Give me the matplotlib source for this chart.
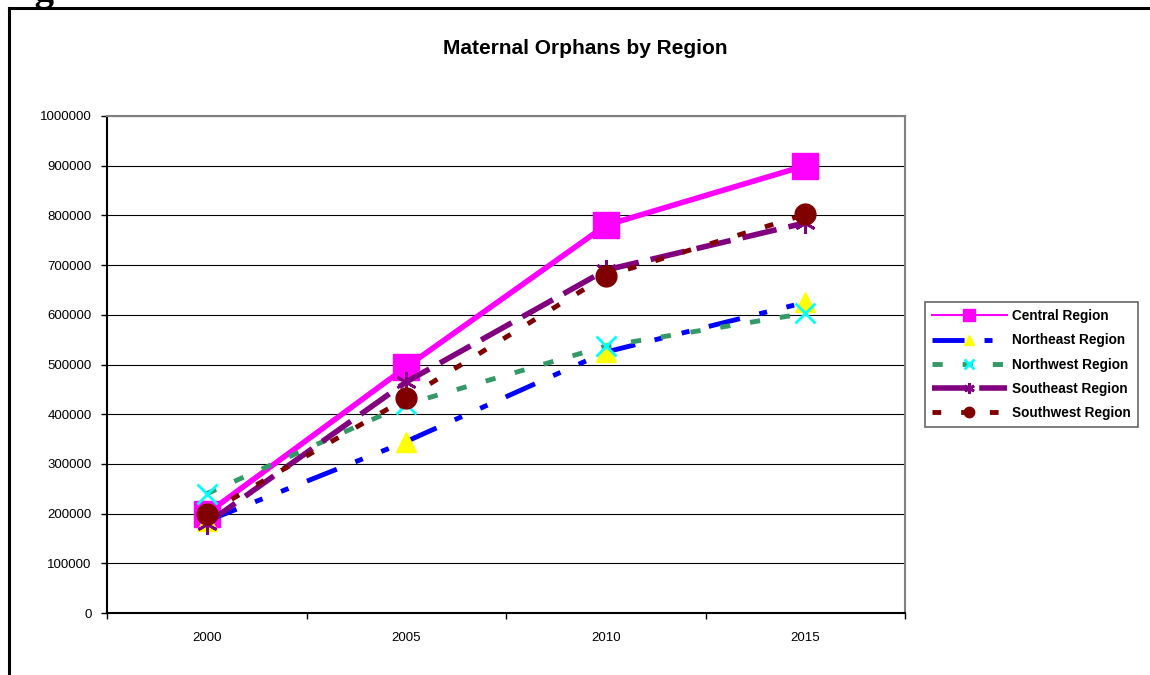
import matplotlib
matplotlib.use("Agg")
import matplotlib.pyplot as plt
from matplotlib.lines import Line2D

plt.rcParams['font.family'] = ['Liberation Sans', 'DejaVu Sans']

years = ["2000", "2005", "2010", "2015"]
y_ticks = [0, 100000, 200000, 300000, 400000, 500000,
           600000, 700000, 800000, 900000, 1000000]

central = [200000, 495000, 780000, 900000]
northeast = [185000, 345000, 525000, 625000]
northwest = [240000, 420000, 537000, 603000]
southeast = [180000, 465000, 690000, 785000]
southwest = [200000, 432000, 678000, 802000]

W, H = 1150, 675
fig = plt.figure(figsize=(W / 100, H / 100), dpi=100)
fig.patch.set_facecolor("white")

# plot area in pixels: x 107..905, y 116..613
ax = fig.add_axes([107 / W, 1 - 613 / H, (905 - 107) / W, (613 - 116) / H])

x = list(range(len(years)))

ax.plot(x, central, color="#FF00FF", lw=4, marker="s", ms=18.5,
        mfc="#FF00FF", mec="#FF00FF", label="Central Region")
ax.plot(x, northeast, color="#0000FF", lw=3.5, dashes=(6.6, 4.1, 1.65, 4.1, 1.65, 4.1),
        marker="^", ms=15, mfc="#FFFF00", mec="#FFFF00", label="Northeast Region")
ax.plot(x, northwest, color="#339966", lw=3.5, dashes=(2.1, 4.1),
        marker="x", ms=15, mew=2, mec="#00FFFF", label="Northwest Region")
ax.plot(x, southeast, color="#800080", lw=4, dashes=(6.3, 2.2),
        marker=(6, 2, 0), ms=15, mew=2, mec="#800080", label="Southeast Region")
ax.plot(x, southwest, color="#800000", lw=3.5, dashes=(1.8, 4.1),
        marker="o", ms=15, mfc="#800000", mec="#800000", label="Southwest Region")

ax.set_ylim(0, 1000000)
ax.set_yticks(y_ticks)
ax.set_yticklabels([str(v) for v in y_ticks], fontsize=9.5)
ax.grid(axis="y", color="black", lw=0.8)
ax.set_axisbelow(True)

ax.set_xlim(-0.5, 3.5)
ax.set_xticks([i - 0.5 for i in range(len(years) + 1)])
ax.set_xticklabels([])
ax.set_xticks(x, minor=True)
ax.set_xticklabels(years, minor=True, fontsize=9.5)
ax.tick_params(axis="x", which="minor", length=0, pad=14)
ax.tick_params(axis="x", which="major", length=4, width=1)
ax.tick_params(axis="y", length=4, width=1, pad=7)

for side in ["left", "bottom"]:
    ax.spines[side].set_color("black")
    ax.spines[side].set_linewidth(1.5)
for side in ["top", "right"]:
    ax.spines[side].set_color("#808080")
    ax.spines[side].set_linewidth(1.5)

leg = fig.legend(loc="center left", bbox_to_anchor=(925 / W, 1 - 364.5 / H),
                 prop={"weight": "bold", "size": 9.8}, handlelength=5.5,
                 handletextpad=0.4, labelspacing=0.75, markerscale=0.5,
                 fancybox=False, borderaxespad=0, borderpad=0.5)
leg.get_frame().set_edgecolor("#404040")
leg.get_frame().set_linewidth(1.2)
leg.get_lines()[0].set_linewidth(1.5)

fig.text(585 / W, 1 - 49 / H, "Maternal Orphans by Region", ha="center",
         va="center", fontsize=15, fontweight="bold")

# page frame around the chart
fig.add_artist(Line2D([8.5 / W, 8.5 / W], [0, 1 - 7.5 / H], color="black",
                      lw=2.2, transform=fig.transFigure))
fig.add_artist(Line2D([8.5 / W, 1], [1 - 7.5 / H, 1 - 7.5 / H], color="black",
                      lw=2.2, transform=fig.transFigure))
fig.text(0.0, 1.0, "Figure", family="Liberation Serif", fontweight="bold",
         fontsize=28, va="baseline", ha="left")

fig.savefig("out.png", dpi=100)
